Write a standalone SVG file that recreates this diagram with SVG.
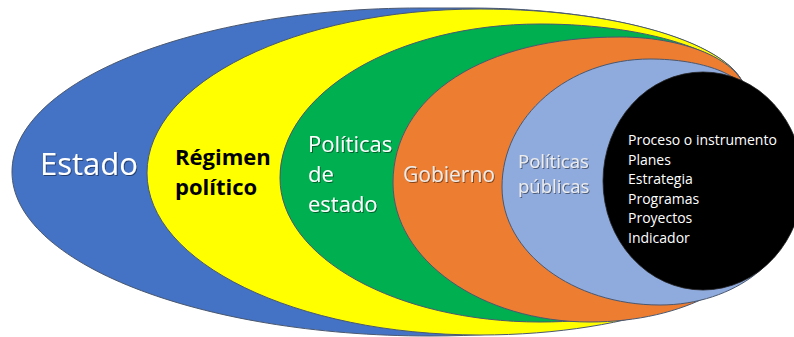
<svg xmlns="http://www.w3.org/2000/svg" width="794" height="337" viewBox="0 0 794 337">
<defs>
<filter id="sh" x="-10%" y="-20%" width="130%" height="150%">
<feDropShadow dx="1" dy="1" stdDeviation="0.7" flood-color="#000" flood-opacity="0.45"/>
</filter>
</defs>
<style>
.layer{stroke:#4a5870;stroke-width:1}
.t{font-family:"Open Sans","Noto Sans","DejaVu Sans",sans-serif}
.w{fill:#ffffff}
.lg{fill:#ececec}
.big{font-size:31px}
.mid{font-size:21px}
.sm{font-size:14px}
</style>
<rect width="794" height="337" fill="#ffffff"/>
<g id="estado">
<path class="layer" fill="#4472C4" d="M746,96 C746,47.4 622.4,8 470,8 L420,8 C194.7,8 12,81.4 12,172 C12,262.6 199.1,336 430,336 C612.3,336 760,288.5 760,230 Z"/>
<text class="t w big" x="40" y="175" filter="url(#sh)">Estado</text>
</g>
<g id="regimen">
<path class="layer" fill="#FFFF00" d="M746,96 C746,48 626.9,9 480,9 C296.1,9 147,82.4 147,173 C147,262.5 296.1,335 480,335 C634.6,335 760,288 760,230 Z"/>
<text class="t" font-size="22" font-weight="bold" fill="#000">
<tspan x="175" y="165">Régimen</tspan>
<tspan x="175" y="195">político</tspan>
</text>
</g>
<g id="politicas-estado">
<path class="layer" fill="#00B050" d="M746,96 C746,56.2 653.8,24 540,24 C396.4,24 280,92.9 280,178 C280,257.5 396.4,322 540,322 C661.5,322 760,280.8 760,230 Z"/>
<text class="t w" font-size="22" filter="url(#sh)">
<tspan x="308" y="152">Políticas</tspan>
<tspan x="308" y="182">de</tspan>
<tspan x="308" y="212">estado</tspan>
</text>
</g>
<g id="gobierno">
<path class="layer" fill="#ED7D31" d="M746,96 C746,63.4 689.6,37 620,37 C483.8,37 393,95.4 393,183 C393,259.8 481.2,322 590,322 C683.9,322 760,280.8 760,230 Z"/>
<text class="t lg mid" x="403" y="182" filter="url(#sh)">Gobierno</text>
</g>
<g id="politicas-publicas">
<path class="layer" fill="#8FAADC" d="M746,96 C746,75.6 703,59 650,59 C568.3,59 502,116.3 502,187 C502,252.2 572.7,305 660,305 C734.6,305 795,258 795,200 Z"/>
<text class="t lg" font-size="18.5" filter="url(#sh)">
<tspan x="518" y="168">Políticas</tspan>
<tspan x="518" y="193">públicas</tspan>
</text>
</g>
<g id="instrumento">
<ellipse cx="703" cy="181" rx="100" ry="109" fill="#000000" stroke="#222" stroke-width="0.8"/>
<text class="t w sm">
<tspan x="628" y="145">Proceso o instrumento</tspan>
<tspan x="628" y="164.5">Planes</tspan>
<tspan x="628" y="184">Estrategia</tspan>
<tspan x="628" y="203.5">Programas</tspan>
<tspan x="628" y="223">Proyectos</tspan>
<tspan x="628" y="242.5">Indicador</tspan>
</text>
</g>
</svg>
